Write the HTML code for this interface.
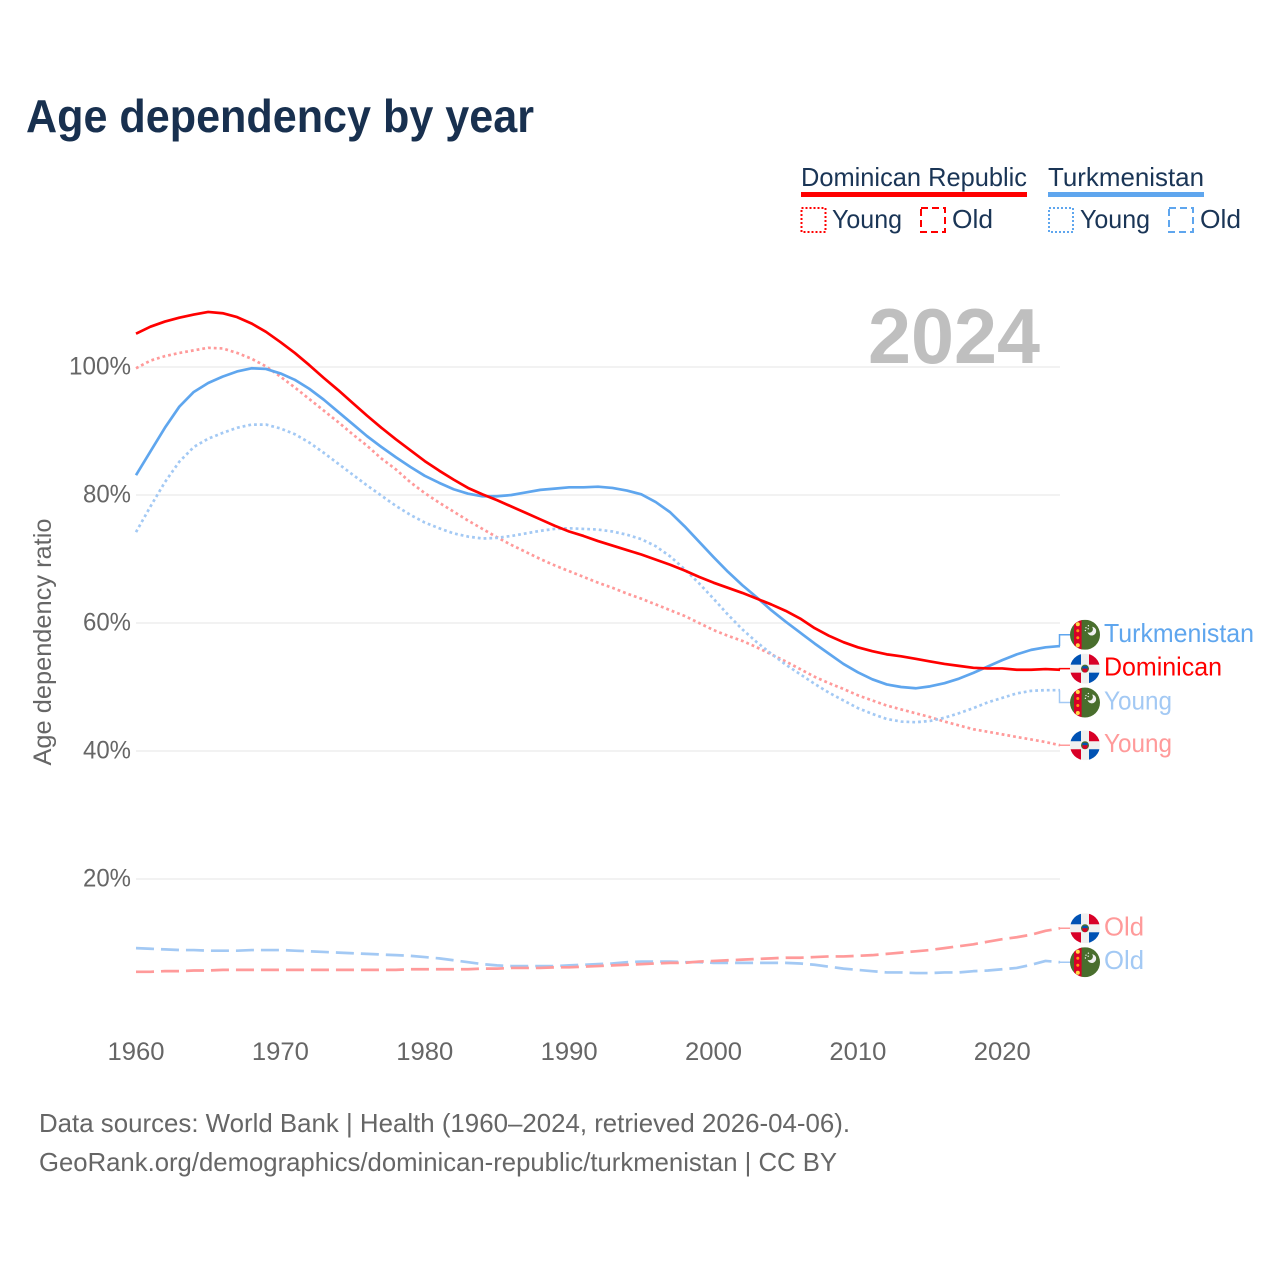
<!DOCTYPE html>
<html lang="en">
<head>
<meta charset="utf-8">
<title>Age dependency by year</title>
<style>
html,body{margin:0;padding:0;background:#fff;width:1280px;height:1280px;overflow:hidden}
svg{display:block}
text{font-family:"Liberation Sans",sans-serif}
</style>
</head>
<body>
<svg id="chart" xmlns="http://www.w3.org/2000/svg" width="1280" height="1280" viewBox="0 0 1280 1280">
  <defs>
    <clipPath id="flag-clip"><circle cx="0" cy="0" r="15"></circle></clipPath>
    <g id="flag-do" clip-path="url(#flag-clip)">
      <rect x="-15" y="-15" width="30" height="30" fill="#f0f0f0"></rect>
      <rect x="-15" y="-15" width="11" height="11" fill="#0052b4"></rect>
      <rect x="4" y="-15" width="11" height="11" fill="#d80027"></rect>
      <rect x="-15" y="4" width="11" height="11" fill="#d80027"></rect>
      <rect x="4" y="4" width="11" height="11" fill="#0052b4"></rect>
      <circle r="4" fill="#496e2d"></circle>
      <path d="M-2.6 -2.4 H2.6 V0 H-2.6Z" fill="#0052b4"></path>
      <path d="M-2.6 0 H2.6 V1.2 A2.6 2.6 0 0 1 -2.6 1.2Z" fill="#d80027"></path>
    </g>
    <g id="flag-tm" clip-path="url(#flag-clip)">
      <rect x="-15" y="-15" width="30" height="30" fill="#496e2d"></rect>
      <rect x="-11" y="-15" width="7.6" height="30" fill="#d80027"></rect>
      <circle cx="-7.2" cy="-10.5" r="2" fill="#ffda44"></circle>
      <circle cx="-7.2" cy="-4" r="1.5" fill="#ff9811"></circle>
      <circle cx="-7.2" cy="3" r="1.5" fill="#ff9811"></circle>
      <circle cx="-7.2" cy="10.5" r="2" fill="#ffda44"></circle>
      <path d="M8 -6.5 A4.4 4.4 0 1 1 3.5 -1 A3.6 3.6 0 0 0 8 -6.5Z" fill="#f0f0f0" transform="translate(-1 -1.5)"></path>
      <circle cx="1" cy="-7" r=".7" fill="#f0f0f0"></circle>
      <circle cx="3.4" cy="-9" r=".7" fill="#f0f0f0"></circle>
      <circle cx="0.4" cy="-4.2" r=".7" fill="#f0f0f0"></circle>
      <circle cx="3.2" cy="-6" r=".7" fill="#f0f0f0"></circle>
    </g>
  </defs>

  <rect x="0" y="0" width="1280" height="1280" fill="#ffffff"></rect>

  <text x="26" y="132" font-size="46" font-weight="700" fill="#18304f" textLength="508" lengthAdjust="spacingAndGlyphs">Age dependency by year</text>

  <g>
    <g>
      <text x="801" y="186" font-size="26" fill="#1a3556" textLength="226" lengthAdjust="spacingAndGlyphs">Dominican Republic</text>
      <rect x="801" y="192" width="226" height="5" fill="#ff0000"></rect>
      <rect x="801.5" y="208" width="24" height="24" fill="none" stroke="#ff0000" stroke-width="2" stroke-dasharray="2 2"></rect>
      <text x="832" y="228" font-size="26" fill="#1a3556" textLength="70" lengthAdjust="spacingAndGlyphs">Young</text>
      <rect x="921" y="208" width="24" height="24" fill="none" stroke="#ff0000" stroke-width="2" stroke-dasharray="7 4"></rect>
      <text x="952" y="228" font-size="26" fill="#1a3556" textLength="41" lengthAdjust="spacingAndGlyphs">Old</text>
    </g>
    <g>
      <text x="1048" y="186" font-size="26" fill="#1a3556" textLength="156" lengthAdjust="spacingAndGlyphs">Turkmenistan</text>
      <rect x="1048" y="192" width="156" height="5" fill="#5fa6ee"></rect>
      <rect x="1049" y="208" width="24" height="24" fill="none" stroke="#5fa6ee" stroke-width="2" stroke-dasharray="2 2"></rect>
      <text x="1080" y="228" font-size="26" fill="#1a3556" textLength="70" lengthAdjust="spacingAndGlyphs">Young</text>
      <rect x="1169" y="208" width="24" height="24" fill="none" stroke="#5fa6ee" stroke-width="2" stroke-dasharray="7 4"></rect>
      <text x="1200" y="228" font-size="26" fill="#1a3556" textLength="41" lengthAdjust="spacingAndGlyphs">Old</text>
    </g>
  </g>

  <g id="grid"></g>
  <text x="868" y="363" font-size="78" font-weight="700" fill="#bfbfbf" textLength="172" lengthAdjust="spacingAndGlyphs">2024</text>
  <g id="y-ticks"></g>
  <g id="x-ticks"></g>
  <text transform="translate(51 642) rotate(-90)" text-anchor="middle" font-size="25" fill="#666666" textLength="247" lengthAdjust="spacingAndGlyphs">Age dependency ratio</text>
  <g id="series"></g>
  <g id="end-labels"></g>

  <text x="39" y="1132" font-size="26" fill="#666666" textLength="811" lengthAdjust="spacingAndGlyphs">Data sources: World Bank | Health (1960–2024, retrieved 2026-04-06).</text>
  <text x="39" y="1171" font-size="26" fill="#666666" textLength="798" lengthAdjust="spacingAndGlyphs">GeoRank.org/demographics/dominican-republic/turkmenistan | CC BY</text>
</svg>
<script>
const firstYear = 1960;
const xTickYears = [1960, 1970, 1980, 1990, 2000, 2010, 2020];
const yTickValues = [20, 40, 60, 80, 100];

const dominicanTotal = [
  105.2,106.3,107.1,107.7,108.2,108.6,108.4,107.8,106.8,105.5,
  103.9,102.2,100.3,98.3,96.4,94.4,92.4,90.5,88.7,87.0,
  85.3,83.8,82.4,81.1,80.1,79.2,78.2,77.2,76.2,75.2,
  74.3,73.6,72.8,72.1,71.4,70.7,69.9,69.1,68.2,67.2,
  66.3,65.5,64.7,63.8,62.9,61.9,60.7,59.2,58.0,57.0,
  56.2,55.6,55.1,54.8,54.4,54.0,53.6,53.3,53.0,52.9,
  52.9,52.7,52.7,52.8,52.7
];
const dominicanYoung = [
  99.8,101.0,101.7,102.2,102.6,103.0,102.9,102.2,101.3,100.1,
  98.5,96.8,95.0,93.2,91.4,89.5,87.7,85.7,84.0,82.0,
  80.3,78.8,77.4,76.0,74.7,73.4,72.2,71.1,70.0,69.0,
  68.1,67.2,66.3,65.5,64.6,63.8,62.9,62.0,61.1,60.0,
  58.9,58.0,57.2,56.2,55.1,54.0,52.8,51.6,50.6,49.7,
  48.7,47.9,47.1,46.5,45.9,45.3,44.6,44.0,43.4,43.0,
  42.6,42.2,41.8,41.4,40.9
];
const dominicanOld = [
  5.5,5.5,5.6,5.6,5.7,5.7,5.8,5.8,5.8,5.8,
  5.8,5.8,5.8,5.8,5.8,5.8,5.8,5.8,5.8,5.9,
  5.9,5.9,5.9,5.9,6.0,6.0,6.1,6.1,6.1,6.2,
  6.2,6.3,6.4,6.5,6.6,6.7,6.8,6.9,6.9,7.1,
  7.2,7.3,7.4,7.5,7.6,7.7,7.7,7.8,7.9,7.9,
  8.0,8.1,8.3,8.5,8.7,8.9,9.2,9.5,9.8,10.2,
  10.6,10.9,11.3,11.9,12.3
];
const turkmenistanTotal = [
  83.1,86.8,90.5,93.8,96.1,97.5,98.5,99.3,99.8,99.7,
  99.0,98.0,96.6,94.9,93.0,91.1,89.2,87.5,85.9,84.4,
  83.0,81.9,80.9,80.2,79.8,79.8,80.0,80.4,80.8,81.0,
  81.2,81.2,81.3,81.1,80.7,80.1,78.9,77.3,75.1,72.7,
  70.3,68.0,65.9,64.0,62.0,60.2,58.5,56.8,55.2,53.6,
  52.3,51.2,50.4,50.0,49.8,50.1,50.6,51.3,52.2,53.2,
  54.2,55.1,55.8,56.2,56.4
];
const turkmenistanYoung = [
  74.2,78.2,82.0,85.2,87.5,88.8,89.7,90.5,91.0,91.0,
  90.4,89.5,88.2,86.6,84.9,83.2,81.5,79.9,78.3,76.9,
  75.7,74.8,74.0,73.5,73.2,73.3,73.6,74.0,74.4,74.7,
  74.8,74.7,74.6,74.3,73.8,73.1,72.0,70.4,68.4,66.2,
  63.8,61.3,59.0,57.0,55.2,53.5,52.0,50.5,49.1,47.9,
  46.7,45.8,45.0,44.6,44.5,44.7,45.2,45.9,46.7,47.6,
  48.3,49.0,49.4,49.5,49.5
];
const turkmenistanOld = [
  9.2,9.1,9.0,8.9,8.9,8.8,8.8,8.8,8.9,8.9,
  8.9,8.8,8.7,8.6,8.5,8.4,8.3,8.2,8.1,8.0,
  7.8,7.6,7.3,7.0,6.7,6.5,6.4,6.4,6.4,6.4,
  6.5,6.6,6.7,6.8,7.0,7.1,7.1,7.1,7.0,7.0,
  6.9,6.9,6.9,6.9,6.9,6.9,6.8,6.6,6.3,6.0,
  5.8,5.6,5.4,5.4,5.3,5.3,5.4,5.4,5.6,5.7,
  5.9,6.1,6.6,7.2,7.0
];

const NS = 'http://www.w3.org/2000/svg';
const xScale = function (year) { return 136 + (year - 1960) * 14.4375; };
const yScale = function (pct) { return 1007 - pct * 6.4; };
const DOTTED = '2.8 3';
const DASHED = '18 7';
const seriesDefs = [
  { key: 'turkmenistan-old', values: turkmenistanOld, color: '#a3c9f4', dash: DASHED, flag: 'flag-tm', label: 'Old', len: 40 },
  { key: 'dominican-old', values: dominicanOld, color: '#ff9a9a', dash: DASHED, flag: 'flag-do', label: 'Old', len: 40 },
  { key: 'dominican-young', values: dominicanYoung, color: '#ff9a9a', dash: DOTTED, flag: 'flag-do', label: 'Young', len: 68 },
  { key: 'turkmenistan-young', values: turkmenistanYoung, color: '#a3c9f4', dash: DOTTED, flag: 'flag-tm', label: 'Young', len: 68 },
  { key: 'turkmenistan-total', values: turkmenistanTotal, color: '#5fa6ee', dash: '', flag: 'flag-tm', label: 'Turkmenistan', len: 150 },
  { key: 'dominican-total', values: dominicanTotal, color: '#ff0000', dash: '', flag: 'flag-do', label: 'Dominican', len: 118 }
];

function mk(tag, parent, attrs) {
  const el = document.createElementNS(NS, tag);
  Object.keys(attrs).forEach(function (k) { el.setAttribute(k, attrs[k]); });
  parent.appendChild(el);
  return el;
}

const grid = document.getElementById('grid');
const yTicks = document.getElementById('y-ticks');
const xTicks = document.getElementById('x-ticks');
const seriesGroup = document.getElementById('series');
const endLabels = document.getElementById('end-labels');
const lastYear = firstYear + dominicanTotal.length - 1;

yTickValues.forEach(function (v) {
  const line = mk('line', grid, { x1: xScale(firstYear), x2: xScale(lastYear), y1: yScale(v), y2: yScale(v), stroke: '#eeeeee', 'stroke-width': 1.5 });
  
  
  const t = mk('text', yTicks, { x: 131, y: yScale(v) + 7.5, 'text-anchor': 'end', 'font-size': 25, fill: '#666666', textLength: 14 * (String(v).length + 1) + 6, lengthAdjust: 'spacingAndGlyphs' });
  t.textContent = v + '%';
  
  
});

xTickYears.forEach(function (year) {
  const t = mk('text', xTicks, { x: xScale(year), y: 1060, 'text-anchor': 'middle', 'font-size': 25, fill: '#666666', textLength: 57, lengthAdjust: 'spacingAndGlyphs' });
  t.textContent = String(year);
  
  
});

seriesDefs.forEach(function (s) {
  const pts = s.values.map(function (v, i) { return xScale(firstYear + i).toFixed(2) + ',' + yScale(v).toFixed(2); }).join(' ');
  const attrs = { points: pts, fill: 'none', stroke: s.color, 'stroke-width': s.dash ? 2.7 : 2.7, 'stroke-linejoin': 'round' };
  if (s.dash) attrs['stroke-dasharray'] = s.dash;
  const line = mk('polyline', seriesGroup, attrs);
  
  
});

/* Place end labels: cluster overlapping endpoints and spread them 34px apart. */
const GAP = 33.9;
const sorted = seriesDefs.map(function (s) {
  return { s: s, end: yScale(s.values[s.values.length - 1]) };
}).sort(function (a, b) { return a.end - b.end; });
let clusters = sorted.map(function (it) { return { items: [it], center: it.end }; });
let merged = true;
while (merged) {
  merged = false;
  for (let i = 0; i < clusters.length - 1; i++) {
    const a = clusters[i], b = clusters[i + 1];
    const aBottom = a.center + (a.items.length - 1) * GAP / 2;
    const bTop = b.center - (b.items.length - 1) * GAP / 2;
    if (bTop - aBottom < GAP - 0.5) {
      const items = a.items.concat(b.items);
      const center = items.reduce(function (sum, it) { return sum + it.end; }, 0) / items.length;
      clusters.splice(i, 2, { items: items, center: center });
      merged = true;
      break;
    }
  }
}
clusters.forEach(function (c) {
  c.items.forEach(function (it, i) {
    const s = it.s;
    const y = c.center + (i - (c.items.length - 1) / 2) * GAP;
    const xEnd = xScale(lastYear);
    const conn = mk('polyline', endLabels, {
      points: xEnd + ',' + it.end + ' ' + (xEnd - 0.5) + ',' + it.end + ' ' + (xEnd - 0.5) + ',' + y + ' 1070,' + y,
      fill: 'none', stroke: s.color, 'stroke-width': 1.5
    });
    
    
    const flag = mk('use', endLabels, { href: '#' + s.flag, x: 1085, y: y });
    
    
    const t = mk('text', endLabels, { x: 1104, y: y + 7, 'font-size': 26, fill: s.color, textLength: s.len, lengthAdjust: 'spacingAndGlyphs' });
    t.textContent = s.label;
    
    
  });
});
</script>
</body>
</html>
